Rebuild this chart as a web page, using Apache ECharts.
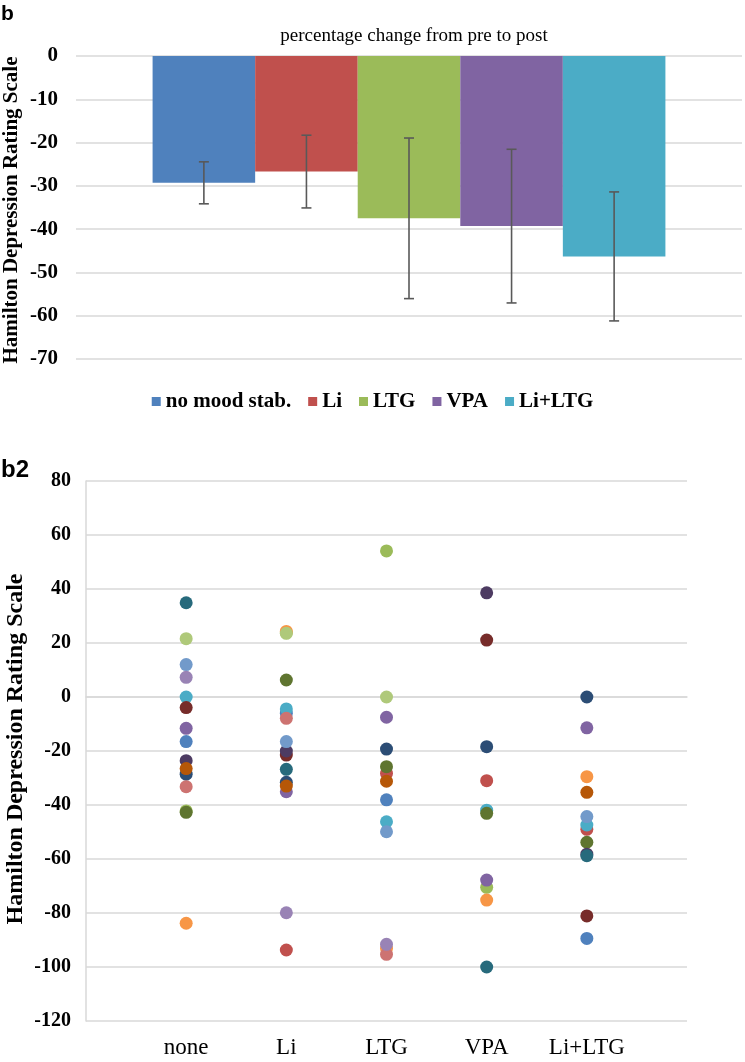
<!DOCTYPE html>
<html>
<head>
<meta charset="utf-8">
<script src="https://cdn.jsdelivr.net/npm/echarts@6/dist/echarts.min.js"></script>
<style>
  html, body { margin: 0; padding: 0; background: #fff; }
  #main { width: 745px; height: 1062px; }
</style>
</head>
<body>
<div id="main"></div>
<script>
// panel b: mean percentage change and error bar half-length
const barNames = ['no mood stab.', 'Li', 'LTG', 'VPA', 'Li+LTG'];
const barMeans = [-29.3, -26.7, -37.5, -39.3, -46.3];
const barSd = [4.85, 8.4, 18.55, 17.75, 14.9];

// panel b2: individual values per group, row i = colour slot i
const groupNames = ['none', 'Li', 'LTG', 'VPA', 'Li+LTG'];
const noneValues = [-16.5, null, -42.2, -11.6, 0, -83.8, -28.6, -3.9, -42.7, -23.6, 34.9, -26.5, 12.0, -33.2, 21.6, 7.3];
const liValues = [-6.0, -93.7, 23.8, -35.1, -4.4, 24.3, -31.6, -21.5, 6.3, -20.0, -26.8, -33.0, -16.5, -7.9, 23.6, -79.9];
const ltgValues = [-38.1, -28.3, 54.1, -7.5, -46.2, -93.1, -19.3, null, -25.8, null, null, -31.2, -49.9, -95.3, 0, -91.6];
const vpaValues = [null, -31.0, -70.5, -67.8, -41.9, -75.2, -18.4, 21.1, -43.1, 38.6, -100];
const liLtgValues = [-89.4, -49.0, null, -11.4, -47.4, -29.5, 0, -81.1, -53.8, -58.2, -58.8, -35.3, -44.3];

const barColors = ['#4F81BD', '#C0504D', '#9BBB59', '#8064A2', '#4BACC6'];
const palette = ['#4F81BD', '#C0504D', '#9BBB59', '#8064A2', '#4BACC6', '#F79646',
  '#2C4D75', '#772C2A', '#5F7530', '#4D3B62', '#276A7C', '#B65708',
  '#729ACA', '#CD7371', '#AFC97A', '#9983B5'];

const serif = 'Liberation Serif, Times New Roman, serif';
const sans = 'Liberation Sans, Arial, sans-serif';
const gridColor = '#D9D9D9';
const barRatio = 0.154;

const groups = [noneValues, liValues, ltgValues, vpaValues, liLtgValues];

const series = [];
barNames.forEach((name, i) => {
  series.push({
    name: name,
    type: 'bar',
    xAxisIndex: 0,
    yAxisIndex: 0,
    barWidth: (barRatio * 100) + '%',
    barGap: '0%',
    itemStyle: { color: barColors[i] },
    data: [barMeans[i]]
  });
});

// error bars drawn through the category axis of panel b
series.push({
  type: 'custom',
  xAxisIndex: 0,
  yAxisIndex: 0,
  encode: { x: 0, y: [1, 2] },
  data: barNames.map((n, i) => [0, barMeans[i] - barSd[i], barMeans[i] + barSd[i], i]),
  renderItem: function (params, api) {
    const idx = api.value(3);
    const band = api.size([1, 0])[0];
    const lo = api.coord([0, api.value(1)]);
    const hi = api.coord([0, api.value(2)]);
    const x = lo[0] + (idx - 2) * band * barRatio;
    const cap = 5;
    const st = { stroke: '#595959', lineWidth: 1.6 };
    return {
      type: 'group',
      children: [
        { type: 'line', shape: { x1: x, y1: lo[1], x2: x, y2: hi[1] }, style: st },
        { type: 'line', shape: { x1: x - cap, y1: lo[1], x2: x + cap, y2: lo[1] }, style: st },
        { type: 'line', shape: { x1: x - cap, y1: hi[1], x2: x + cap, y2: hi[1] }, style: st }
      ]
    };
  },
  z: 5
});

// one scatter series per colour slot
palette.forEach((color, slot) => {
  const data = [];
  groups.forEach((vals, gi) => {
    const v = vals[slot];
    if (v !== null && v !== undefined) data.push([gi + 1, v]);
  });
  series.push({
    name: 'row' + (slot + 1),
    type: 'scatter',
    xAxisIndex: 1,
    yAxisIndex: 1,
    symbolSize: 13,
    itemStyle: { color: color, opacity: 1 },
    data: data
  });
});

const chart = echarts.init(document.getElementById('main'));
chart.setOption({
  animation: false,
  backgroundColor: '#fff',
  title: {
    text: 'percentage change from pre to post',
    left: 409,
    textAlign: 'center',
    top: 22,
    textStyle: { fontFamily: serif, fontWeight: 'normal', fontSize: 19, color: '#000' }
  },
  legend: {
    data: barNames,
    left: 'center',
    top: 386,
    icon: 'rect',
    itemWidth: 9,
    itemHeight: 9,
    itemGap: 17,
    textStyle: { fontFamily: serif, fontWeight: 'bold', fontSize: 21, color: '#000' }
  },
  grid: [
    { left: 76, top: 56, width: 666, height: 303 },
    { left: 86, top: 481, width: 601, height: 540 }
  ],
  xAxis: [
    {
      gridIndex: 0,
      type: 'category',
      data: [''],
      axisLine: { show: false },
      axisTick: { show: false },
      axisLabel: { show: false }
    },
    {
      gridIndex: 1,
      type: 'value',
      min: 0,
      max: 6,
      interval: 1,
      splitLine: { show: false },
      axisTick: { show: false },
      axisLine: { show: true, lineStyle: { color: gridColor, width: 1.5 } },
      axisLabel: {
        margin: 15,
        fontFamily: serif,
        fontSize: 23,
        color: '#000',
        formatter: v => groupNames[v - 1] || ''
      }
    }
  ],
  yAxis: [
    {
      gridIndex: 0,
      type: 'value',
      min: -70,
      max: 0,
      interval: 10,
      axisLine: { show: false },
      axisTick: { show: false },
      splitLine: { lineStyle: { color: gridColor, width: 1.5 } },
      axisLabel: { margin: 18, fontFamily: serif, fontWeight: 'bold', fontSize: 21, color: '#000' }
    },
    {
      gridIndex: 1,
      type: 'value',
      min: -120,
      max: 80,
      interval: 20,
      axisLine: { show: true, lineStyle: { color: gridColor, width: 1.5 } },
      axisTick: { show: false },
      splitLine: { lineStyle: { color: gridColor, width: 1.5 } },
      axisLabel: { margin: 15, fontFamily: serif, fontWeight: 'bold', fontSize: 20, color: '#000' }
    }
  ],
  graphic: [
    {
      type: 'text', x: 1, y: 4,
      style: { text: 'b', fontFamily: sans, fontWeight: 'bold', fontSize: 21, fill: '#000' }
    },
    {
      type: 'text', x: 1, y: 458,
      style: { text: 'b2', fontFamily: sans, fontWeight: 'bold', fontSize: 24, fill: '#000' }
    },
    {
      type: 'text', x: 12, y: 210, rotation: Math.PI / 2,
      style: {
        text: 'Hamilton Depression Rating Scale', align: 'center', verticalAlign: 'middle',
        fontFamily: serif, fontWeight: 'bold', fontSize: 21, fill: '#000'
      }
    },
    {
      type: 'text', x: 16, y: 749, rotation: Math.PI / 2,
      style: {
        text: 'Hamilton Depression Rating Scale', align: 'center', verticalAlign: 'middle',
        fontFamily: serif, fontWeight: 'bold', fontSize: 24, fill: '#000'
      }
    }
  ],
  series: series
});
</script>
</body>
</html>
